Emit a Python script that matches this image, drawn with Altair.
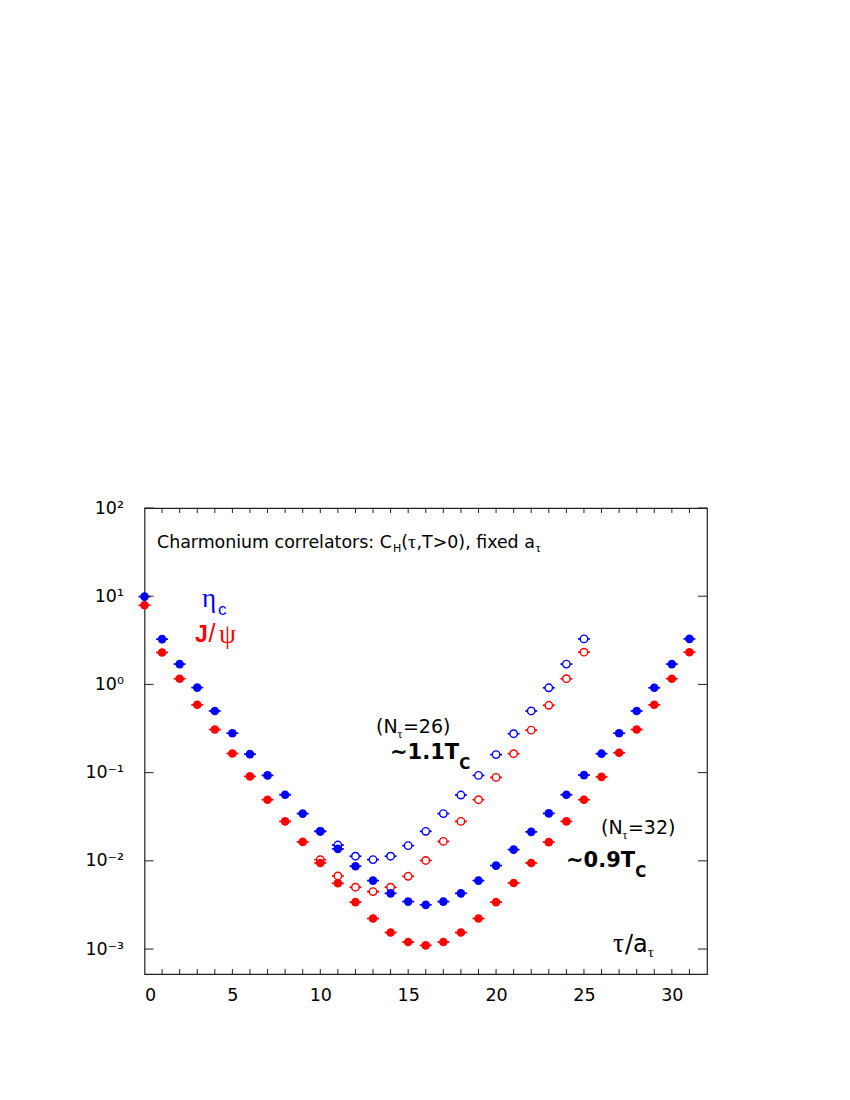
import altair as alt
import pandas as pd

# ---------------- data ----------------
tau_n32 = list(range(32))
eta_n32 = [9.9, 3.26, 1.70, 0.92, 0.50, 0.28, 0.162, 0.093, 0.0562, 0.0343,
           0.0216, 0.01365, 0.00869, 0.00597, 0.00428, 0.00345, 0.00317, 0.00345,
           0.00428, 0.00597, 0.00883, 0.0134, 0.0213, 0.0345, 0.0562, 0.0937,
           0.164, 0.28, 0.50, 0.916, 1.70, 3.28]
jpsi_n32 = [7.9, 2.30, 1.16, 0.587, 0.308, 0.165, 0.0906, 0.0493, 0.028, 0.0164,
            0.00946, 0.00556, 0.0034, 0.00222, 0.00154, 0.0012, 0.0011, 0.0012,
            0.00154, 0.00222, 0.0034, 0.00561, 0.00946, 0.0163, 0.028, 0.0493,
            0.0894, 0.168, 0.308, 0.587, 1.16, 2.32]

tau_n26 = list(range(10, 26))
eta_n26 = [0.0216, 0.0151, 0.01128, 0.01033, 0.01128, 0.01486, 0.0216, 0.0343,
           0.0557, 0.093, 0.160, 0.276, 0.50, 0.916, 1.70, 3.28]
jpsi_n26 = [0.0103, 0.00674, 0.00502, 0.00448, 0.00502, 0.00668, 0.0101, 0.0166,
            0.028, 0.0493, 0.0883, 0.164, 0.303, 0.58, 1.16, 2.32]

x_tick_values = [0, 5, 10, 15, 20, 25, 30]
x_minor_ticks = list(range(1, 32))
y_tick_values = [1e-3, 1e-2, 1e-1, 1e0, 1e1, 1e2]
y_tick_labels = ["10\u207b\u00b3", "10\u207b\u00b2", "10\u207b\u00b9", "10\u2070", "10\u00b9", "10\u00b2"]

states = ["eta_c", "J/psi"]
colors = ["#0000ff", "#ff0000"]

# ---------------- geometry ----------------
W, H = 562.5, 466
X0, Y0 = 144.5, 508  # page position of plot area
FONT = "DejaVu Sans"
SERIF = "Liberation Serif"
HELV = "Liberation Sans"

rows = []
for t, e, j in zip(tau_n32, eta_n32, jpsi_n32):
    rows.append({"tau": t, "C": e, "state": "eta_c", "Nt": "32"})
    rows.append({"tau": t, "C": j, "state": "J/psi", "Nt": "32"})
df32 = pd.DataFrame(rows)
rows = []
for t, e, j in zip(tau_n26, eta_n26, jpsi_n26):
    rows.append({"tau": t, "C": e, "state": "eta_c", "Nt": "26"})
    rows.append({"tau": t, "C": j, "state": "J/psi", "Nt": "26"})
df26 = pd.DataFrame(rows)

xs = alt.Scale(domain=[0, 32], nice=False, zero=False)
ys = alt.Scale(type="log", domain=[10 ** -3.283, 100], nice=False)
cs = alt.Scale(domain=states, range=colors)

label_expr = "[" + ",".join("'%s'" % s for s in y_tick_labels) + "][round(log(datum.value)/LN10)+3]"

xax = alt.Axis(values=x_tick_values, title=None, grid=False, ticks=False, tickSize=0,
               domain=False, labelFont=FONT, labelFontSize=17.5, labelPadding=12,
               labelColor="black")
yax = alt.Axis(values=y_tick_values, title=None, grid=False, ticks=False, tickSize=0,
               domain=False, labelFont=FONT, labelFontSize=17.5, labelPadding=21,
               labelColor="black", labelExpr=label_expr)


def errbars(df):
    return alt.Chart(df).transform_calculate(
        lo="datum.tau - 0.34", hi="datum.tau + 0.34"
    ).mark_rule(strokeWidth=1.7).encode(
        x=alt.X("lo:Q", scale=xs, axis=xax),
        x2="hi:Q",
        y=alt.Y("C:Q", scale=ys, axis=yax),
        color=alt.Color("state:N", scale=cs, legend=None),
    )


open_bars = errbars(df26)
open_pts = alt.Chart(df26).mark_point(shape="circle", filled=True, fill="white",
                                      strokeWidth=1.4, size=56, opacity=1).encode(
    x=alt.X("tau:Q", scale=xs),
    y=alt.Y("C:Q", scale=ys),
    stroke=alt.Stroke("state:N", scale=cs, legend=None),
)
filled_bars = errbars(df32)
filled_pts = alt.Chart(df32).mark_circle(size=74, opacity=1).encode(
    x=alt.X("tau:Q", scale=xs),
    y=alt.Y("C:Q", scale=ys),
    color=alt.Color("state:N", scale=cs, legend=None),
)

# inward ticks
dfx = pd.DataFrame({"t": x_minor_ticks})
dfy = pd.DataFrame({"v": y_tick_values})
tick_col = "#222222"
bottom_ticks = alt.Chart(dfx).mark_rule(color=tick_col, strokeWidth=1).encode(
    x=alt.X("t:Q", scale=xs), y=alt.value(H), y2=alt.value(H - 5))
top_ticks = alt.Chart(dfx).mark_rule(color=tick_col, strokeWidth=1).encode(
    x=alt.X("t:Q", scale=xs), y=alt.value(0), y2=alt.value(5))
left_ticks = alt.Chart(dfy).mark_rule(color=tick_col, strokeWidth=1).encode(
    y=alt.Y("v:Q", scale=ys), x=alt.value(0), x2=alt.value(9))
right_ticks = alt.Chart(dfy).mark_rule(color=tick_col, strokeWidth=1).encode(
    y=alt.Y("v:Q", scale=ys), x=alt.value(W), x2=alt.value(W - 9))

one = pd.DataFrame({"a": [0]})

# approximate DejaVu Sans advance widths (per 1000 em) for laying out sub/superscripts
DEJAVU = {"C": 698, "h": 634, "a": 613, "r": 411, "m": 974, "o": 612, "n": 634,
          "i": 278, "u": 634, " ": 318, "c": 550, "e": 615, "l": 278, "t": 392,
          "s": 521, ":": 337, "H": 752, "(": 390, ")": 390, ",": 318, "T": 611,
          ">": 838, "f": 352, "x": 592, "d": 635, "N": 748, "=": 838, "/": 337,
          "~": 838, ".": 318}
DEJAVU_BOLD = {"~": 838, ".": 380, "T": 683, "C": 734}
GREEK = {"\u03c4": 440, "\u03b7": 500, "\u03c8": 690}


def width(s, size, bold=False):
    tot = 0
    for ch in s:
        if ch in GREEK:
            tot += GREEK[ch]
        elif bold:
            tot += DEJAVU_BOLD.get(ch, 696)
        else:
            tot += DEJAVU.get(ch, 636)
    return tot * size / 1000.0


def txt(s, px, py, size, color="black", weight="normal", font=FONT):
    return alt.Chart(one).mark_text(
        text=s, align="left", baseline="alphabetic", fontSize=size,
        fontWeight=weight, color=color, font=font
    ).encode(x=alt.value(px - X0), y=alt.value(py - Y0))


def flow(x, base, pieces, color="black"):
    out = []
    for p in pieces:
        s, size = p[0], p[1]
        dy = p[2] if len(p) > 2 else 0
        weight = p[3] if len(p) > 3 else "normal"
        font = SERIF if any(ch in GREEK for ch in s) else FONT
        out.append(txt(s, x, base + dy, size, color=color, weight=weight, font=font))
        x += width(s, size, weight == "bold")
    return out


texts = []
texts += flow(157, 548, [("Charmonium correlators: C", 17.4), ("H", 11, 4),
                         ("(", 17.4), ("\u03c4", 19.5), (",T>0), fixed a", 17.4),
                         ("\u03c4", 13, 4)])
texts += [txt("\u03b7", 202, 607, 27, color="#0000ff", font=SERIF),
          txt("c", 218, 615, 17, color="#0000ff", font=HELV)]
texts += [txt("J", 195, 642, 23, color="#ff0000", weight="bold", font=HELV),
          txt("/", 208.5, 642, 25, color="#ff0000", font=HELV),
          txt("\u03c8", 219, 643, 27, color="#ff0000", font=SERIF)]
texts += flow(376, 733, [("(N", 19), ("\u03c4", 12, 5), ("=26)", 19)])
texts += flow(390, 759, [("~1.1T", 21, 0, "bold"), ("C", 15, 10, "bold")])
texts += flow(601, 834, [("(N", 19), ("\u03c4", 12, 5), ("=32)", 19)])
texts += flow(566, 867, [("~0.9T", 21, 0, "bold"), ("C", 15, 10, "bold")])
texts += flow(613, 952, [("\u03c4", 27), ("/a", 24), ("\u03c4", 15, 5)])

chart = alt.layer(
    open_bars, open_pts, filled_bars, filled_pts,
    bottom_ticks, top_ticks, left_ticks, right_ticks,
    *texts
).properties(
    width=W, height=H,
    autosize=alt.AutoSizeParams(type="none"),
    padding={"left": X0 - 8, "top": Y0 - 8, "right": 850 - 16 - (X0 - 8) - W, "bottom": 100},
    background="white",
).configure_view(stroke="#222222", strokeWidth=1.2)

chart.save("out.html", embed_options={"renderer": "svg", "actions": False})
